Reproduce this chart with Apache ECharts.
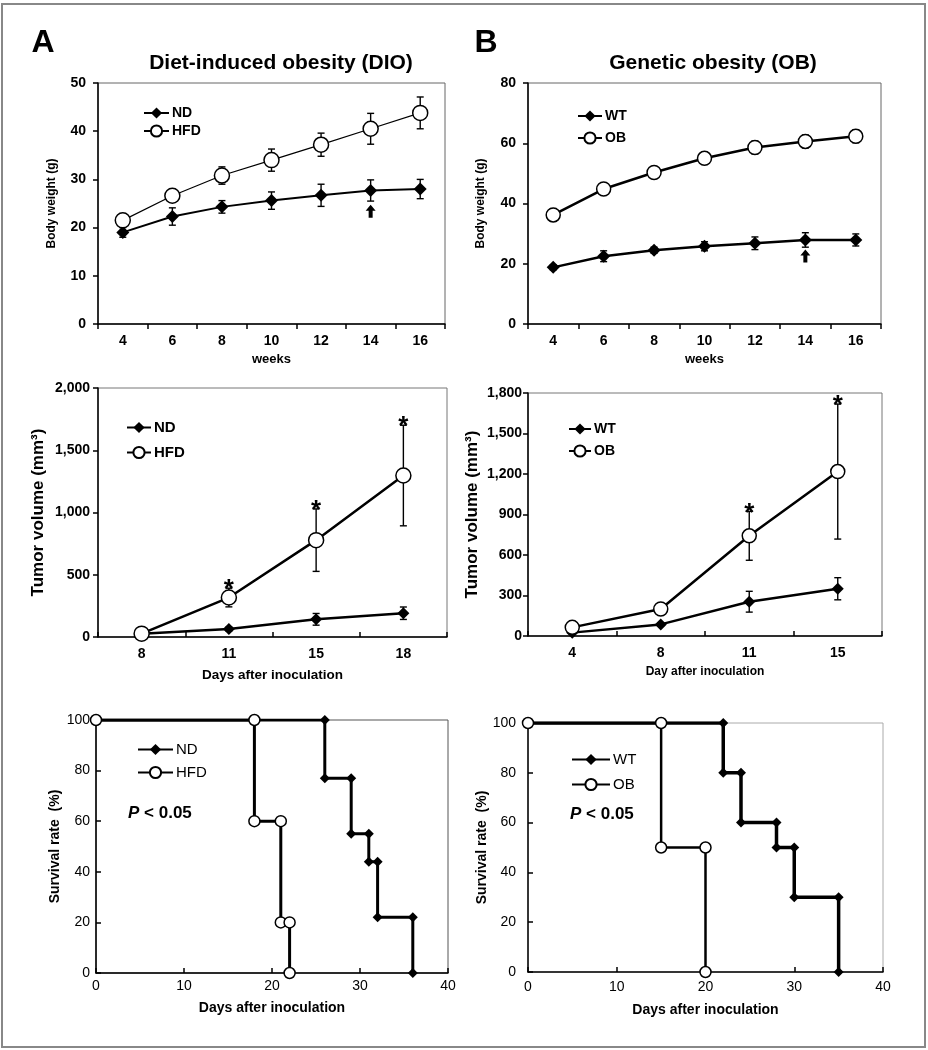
<!DOCTYPE html>
<html><head><meta charset="utf-8">
<script src="https://cdn.jsdelivr.net/npm/echarts@6/dist/echarts.min.js"></script>
<style>html,body{margin:0;padding:0;background:#fff}#c{width:928px;height:1050px}</style>
</head><body><div id="c"></div>
<script>
// ---------- DATA ----------
// Panel A (top): body weight, diet-induced obesity
const weeks = ['4','6','8','10','12','14','16'];
const dioND = [19.0, 22.3, 24.3, 25.6, 26.7, 27.7, 28.0];
const dioNDErr = [1.0, 1.8, 1.3, 1.8, 2.3, 2.2, 2.0];
const dioHFD = [21.5, 26.6, 30.8, 34.0, 37.2, 40.5, 43.8];
const dioHFDErr = [0.5, 1.2, 1.8, 2.3, 2.4, 3.2, 3.3];
// Panel B (top): body weight, genetic obesity
const obWT = [18.8, 22.5, 24.5, 25.8, 26.8, 27.9, 27.9];
const obWTErr = [0.8, 1.8, 1.0, 1.5, 2.1, 2.4, 2.0];
const obOB = [36.2, 44.8, 50.3, 55.0, 58.6, 60.6, 62.3];
const obOBErr = [2.1, 1.8, 1.2, 1.9, 2.1, 2.1, 2.1];
const arrowWeek = '14';
const arrowDIO = 23.4;
const arrowOB = 22.6;
// Panel A (middle): tumor volume
const dioDays = ['8','11','15','18'];
const dioTumorND = [27, 64, 142, 191];
const dioTumorNDErr = [0, 15, 47, 50];
const dioTumorHFD = [27, 317, 778, 1297];
const dioTumorHFDErr = [0, 75, 251, 404];
const dioSig = [0, 1, 1, 1];
// Panel B (middle): tumor volume
const obDays = ['4','8','11','15'];
const obTumorWT = [25, 86, 254, 350];
const obTumorWTErr = [0, 10, 77, 82];
const obTumorOB = [64, 200, 742, 1218];
const obTumorOBErr = [0, 0, 181, 500];
const obSig = [0, 0, 1, 1];
// Panel A (bottom): survival
const survNDDays = [0, 26, 26, 29, 29, 31, 31, 32, 32, 36, 36];
const survND = [100, 100, 77, 77, 55, 55, 44, 44, 22, 22, 0];
const survHFDDays = [0, 18, 18, 21, 21, 22, 22];
const survHFD = [100, 100, 60, 60, 20, 20, 0];
// Panel B (bottom): survival
const survWTDays = [0, 22, 22, 24, 24, 28, 28, 30, 30, 35, 35];
const survWT = [100, 100, 80, 80, 60, 60, 50, 50, 30, 30, 0];
const survOBDays = [0, 15, 15, 20, 20];
const survOB = [100, 100, 50, 50, 0];

// ---------- HELPERS ----------
const FONT = '"Liberation Sans", Arial, sans-serif';
const ARROW = 'path://M5,0 L10,6 L7,6 L7,13 L3,13 L3,6 L0,6 Z';
const fmtComma = v => v.toLocaleString('en-US');

function catX(gi, data, o) {
  return {
    gridIndex: gi, type: 'category', data: data, boundaryGap: true,
    axisLine: {show: true, lineStyle: {color: '#000', width: 1.5}},
    axisTick: {show: true, inside: o.tickInside, length: 5, lineStyle: {color: '#000', width: 1.5}},
    axisLabel: {color: '#000', fontWeight: 'bold', fontSize: o.fs || 14, fontFamily: FONT, margin: o.margin},
    splitLine: {show: false},
    name: o.name, nameLocation: 'middle', nameGap: o.nameGap,
    nameTextStyle: {color: '#000', fontWeight: 'bold', fontSize: o.nameFs, fontFamily: FONT}
  };
}
function valAxis(gi, o) {
  return {
    gridIndex: gi, type: 'value', min: o.min, max: o.max, interval: o.interval,
    axisLine: {show: true, lineStyle: {color: '#000', width: 1.5}},
    axisTick: {show: true, inside: o.tickInside, length: 5, lineStyle: {color: '#000', width: 1.5}},
    axisLabel: {color: '#000', fontWeight: o.labelWeight || 'bold', fontSize: o.fs || 14, fontFamily: FONT, margin: o.margin, formatter: o.formatter},
    splitLine: {show: false},
    name: o.name, nameLocation: 'middle', nameGap: o.nameGap, nameRotate: o.nameRotate,
    nameTextStyle: {color: '#000', fontWeight: 'bold', fontSize: o.nameFs, fontFamily: FONT}
  };
}
function lineS(name, ai, data, sym, size, lw, open) {
  return {
    type: 'line', name: name, xAxisIndex: ai, yAxisIndex: ai, data: data,
    symbol: sym, symbolSize: size, showSymbol: true, z: 3,
    lineStyle: {color: '#000', width: lw},
    itemStyle: open ? {color: '#fff', borderColor: '#000', borderWidth: 1.5} : {color: '#000', borderColor: '#000', borderWidth: 0},
    emphasis: {disabled: true}, animation: false
  };
}
function errS(ai, vals, errs, w) {
  return {
    type: 'custom', xAxisIndex: ai, yAxisIndex: ai, z: 2, silent: true, animation: false,
    data: vals.map((v, i) => [i, v, errs[i]]),
    renderItem: function (params, api) {
      const i = api.value(0), v = api.value(1), e = api.value(2);
      if (!e) return null;
      const t = api.coord([i, v + e]), b = api.coord([i, v - e]);
      const st = {stroke: '#000', lineWidth: 1.4};
      return {type: 'group', children: [
        {type: 'line', shape: {x1: t[0], y1: t[1], x2: b[0], y2: b[1]}, style: st},
        {type: 'line', shape: {x1: t[0] - w, y1: t[1], x2: t[0] + w, y2: t[1]}, style: st},
        {type: 'line', shape: {x1: b[0] - w, y1: b[1], x2: b[0] + w, y2: b[1]}, style: st}
      ]};
    }
  };
}
function starS(ai, vals, errs, sig) {
  return {
    type: 'custom', xAxisIndex: ai, yAxisIndex: ai, z: 4, silent: true, animation: false,
    data: vals.map((v, i) => [i, v + errs[i], sig[i]]),
    renderItem: function (params, api) {
      if (!api.value(2)) return null;
      const p = api.coord([api.value(0), api.value(1)]);
      return {type: 'text', x: p[0], y: p[1] + 2, style: {
        text: '*', fill: '#000', fontSize: 26, fontWeight: 'bold', fontFamily: FONT,
        textAlign: 'center', textVerticalAlign: 'middle', align: 'center', verticalAlign: 'middle'}};
    }
  };
}
function survS(name, ai, xs, ys, sym, size, lw, open) {
  const d = xs.map((x, i) => i === 0 && !open ? {value: [x, ys[i]], symbol: 'none'} : [x, ys[i]]);
  return lineS(name, ai, d, sym, size, lw, open);
}
function arrowS(ai, cat, val) {
  return {type: 'scatter', xAxisIndex: ai, yAxisIndex: ai, symbol: ARROW, symbolSize: [10, 13], silent: true,
    itemStyle: {color: '#000', opacity: 1}, data: [[weeks.indexOf(cat), val]], z: 4, animation: false};
}
function txt(x, y, text, size, weight) {
  return {type: 'text', x: x, y: y, silent: true, style: {
    text: text, fill: '#000', fontSize: size, fontWeight: weight, fontFamily: FONT,
    textAlign: 'center', textVerticalAlign: 'middle', align: 'center', verticalAlign: 'middle'}};
}
function pText(x, y) {
  return {type: 'text', x: x, y: y, silent: true, style: {
    text: '{i|P} < 0.05', fill: '#000', fontSize: 17, fontWeight: 'bold', fontFamily: FONT,
    textAlign: 'left', textVerticalAlign: 'middle', align: 'left', verticalAlign: 'middle',
    rich: {i: {fontStyle: 'italic', fontWeight: 'bold', fontSize: 17, fontFamily: FONT, fill: '#000'}}}};
}
function legendOf(names, left, top, w, gap, fs, weight) {
  return {
    data: names, left: left, top: top, orient: 'vertical', itemWidth: w, itemHeight: 14, itemGap: gap,
    padding: 0, selectedMode: false, formatter: n => n.split('#')[0],
    textStyle: {color: '#000', fontSize: fs, fontWeight: weight, fontFamily: FONT, padding: [0, 0, 0, -2]}
  };
}

const gridBase = {show: true, backgroundColor: 'transparent', borderWidth: 1, containLabel: false};

const option = {
  backgroundColor: '#fff',
  animation: false,
  grid: [
    Object.assign({left: 98, top: 83, width: 347, height: 241, borderColor: '#666'}, gridBase),
    Object.assign({left: 528, top: 83, width: 353, height: 241, borderColor: '#666'}, gridBase),
    Object.assign({left: 98, top: 388, width: 349, height: 249, borderColor: '#777'}, gridBase),
    Object.assign({left: 528, top: 393, width: 354, height: 243, borderColor: '#777'}, gridBase),
    Object.assign({left: 96, top: 720, width: 352, height: 253, borderColor: '#555'}, gridBase),
    Object.assign({left: 528, top: 723, width: 355, height: 249, borderColor: '#aaa'}, gridBase)
  ],
  xAxis: [
    catX(0, weeks, {tickInside: false, margin: 10, name: 'weeks', nameGap: 29, nameFs: 13}),
    catX(1, weeks, {tickInside: false, margin: 10, name: 'weeks', nameGap: 29, nameFs: 13}),
    catX(2, dioDays, {tickInside: true, margin: 10, name: 'Days after inoculation', nameGap: 31, nameFs: 13.5}),
    catX(3, obDays, {tickInside: true, margin: 10, name: 'Day after inoculation', nameGap: 30, nameFs: 12}),
    valAxis(4, {min: 0, max: 40, interval: 10, tickInside: true, margin: 6, labelWeight: 'normal', fs: 14,
      name: 'Days after inoculation', nameGap: 28, nameFs: 14}),
    valAxis(5, {min: 0, max: 40, interval: 10, tickInside: true, margin: 8, labelWeight: 'normal', fs: 14,
      name: 'Days after inoculation', nameGap: 31, nameFs: 14})
  ],
  yAxis: [
    valAxis(0, {min: 0, max: 50, interval: 10, tickInside: false, margin: 12, name: 'Body weight (g)', nameGap: 40, nameRotate: 90, nameFs: 12}),
    valAxis(1, {min: 0, max: 80, interval: 20, tickInside: false, margin: 12, name: 'Body weight (g)', nameGap: 41, nameRotate: 90, nameFs: 12}),
    valAxis(2, {min: 0, max: 2000, interval: 500, tickInside: false, margin: 8, formatter: fmtComma,
      name: 'Tumor volume (mm³)', nameGap: 51, nameRotate: 90, nameFs: 17}),
    valAxis(3, {min: 0, max: 1800, interval: 300, tickInside: false, margin: 6, formatter: fmtComma,
      name: 'Tumor volume (mm³)', nameGap: 47, nameRotate: 90, nameFs: 17}),
    valAxis(4, {min: 0, max: 100, interval: 20, tickInside: true, margin: 6, labelWeight: 'normal', fs: 14,
      name: 'Survival rate  (%)', nameGap: 34, nameRotate: 90, nameFs: 14}),
    valAxis(5, {min: 0, max: 100, interval: 20, tickInside: true, margin: 12, labelWeight: 'normal', fs: 14,
      name: 'Survival rate  (%)', nameGap: 35, nameRotate: 90, nameFs: 14})
  ],
  legend: [
    legendOf(['ND#A1', 'HFD#A1'], 143, 106, 25, 4, 14, 'bold'),
    legendOf(['WT#B1', 'OB#B1'], 577, 109, 24, 8, 14, 'bold'),
    legendOf(['ND#A2', 'HFD#A2'], 126, 420, 24, 10, 15, 'bold'),
    legendOf(['WT#B2', 'OB#B2'], 568, 422, 22, 8, 14, 'bold'),
    legendOf(['ND#A3', 'HFD#A3'], 137, 742, 35, 8, 15, 'normal'),
    legendOf(['WT#B3', 'OB#B3'], 571, 752, 38, 10, 15, 'normal')
  ],
  series: [
    // A1
    errS(0, dioND, dioNDErr, 3.5),
    errS(0, dioHFD, dioHFDErr, 3.5),
    lineS('ND#A1', 0, dioND, 'diamond', 13, 2, false),
    lineS('HFD#A1', 0, dioHFD, 'circle', 15, 1.2, true),
    arrowS(0, arrowWeek, arrowDIO),
    // B1
    errS(1, obWT, obWTErr, 3.5),
    errS(1, obOB, obOBErr, 3.5),
    lineS('WT#B1', 1, obWT, 'diamond', 13, 2.5, false),
    lineS('OB#B1', 1, obOB, 'circle', 14, 2.5, true),
    arrowS(1, arrowWeek, arrowOB),
    // A2
    errS(2, dioTumorND, dioTumorNDErr, 3.5),
    errS(2, dioTumorHFD, dioTumorHFDErr, 3.5),
    lineS('ND#A2', 2, dioTumorND, 'diamond', 12, 2.5, false),
    lineS('HFD#A2', 2, dioTumorHFD, 'circle', 15, 2.5, true),
    starS(2, dioTumorHFD, dioTumorHFDErr, dioSig),
    // B2
    errS(3, obTumorWT, obTumorWTErr, 3.5),
    errS(3, obTumorOB, obTumorOBErr, 3.5),
    lineS('WT#B2', 3, obTumorWT, 'diamond', 12, 2.5, false),
    lineS('OB#B2', 3, obTumorOB, 'circle', 14, 2.5, true),
    starS(3, obTumorOB, obTumorOBErr, obSig),
    // A3
    survS('ND#A3', 4, survNDDays, survND, 'diamond', 10, 3, false),
    survS('HFD#A3', 4, survHFDDays, survHFD, 'circle', 11, 3, true),
    // B3
    survS('WT#B3', 5, survWTDays, survWT, 'diamond', 10, 3.5, false),
    survS('OB#B3', 5, survOBDays, survOB, 'circle', 11, 2.5, true)
  ],
  graphic: [
    {type: 'rect', silent: true, shape: {x: 2, y: 4, width: 923, height: 1043},
      style: {fill: 'none', stroke: '#888', lineWidth: 2}},
    txt(43, 43, 'A', 32, 'bold'),
    txt(486, 43, 'B', 32, 'bold'),
    txt(281, 63, 'Diet-induced obesity (DIO)', 21, 'bold'),
    txt(713, 63, 'Genetic obesity (OB)', 21, 'bold'),
    pText(128, 813),
    pText(570, 814)
  ]
};

const chart = echarts.init(document.getElementById('c'), null, {renderer: 'canvas'});
chart.setOption(option);
</script></body></html>
